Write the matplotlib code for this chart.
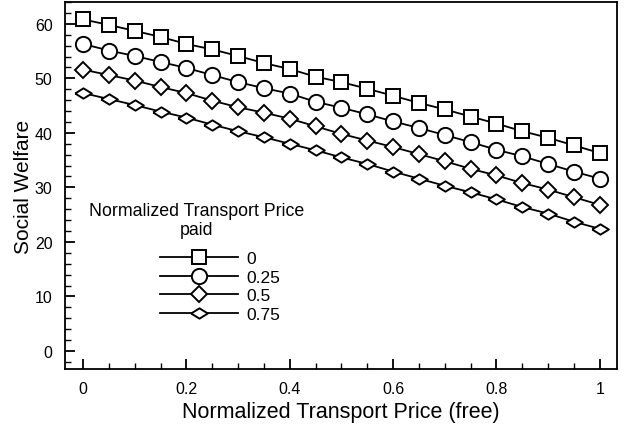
import matplotlib
matplotlib.use("Agg")
import matplotlib.pyplot as plt
from matplotlib.ticker import MultipleLocator

plt.rcParams['font.family'] = ['Liberation Sans', 'DejaVu Sans']

# free transport price, 0 .. 1 in 0.05 steps
price_free = [0.0, 0.05, 0.1, 0.15, 0.2, 0.25, 0.3, 0.35, 0.4, 0.45, 0.5,
              0.55, 0.6, 0.65, 0.7, 0.75, 0.8, 0.85, 0.9, 0.95, 1.0]

paid_labels = ['0', '0.25', '0.5', '0.75']

welfare_p0 = [60.8, 59.8, 58.7, 57.6, 56.3, 55.3, 54.1, 52.8, 51.7, 50.3, 49.3,
              48.1, 46.8, 45.5, 44.3, 43.0, 41.7, 40.3, 39.1, 37.7, 36.3]
welfare_p25 = [56.3, 55.1, 54.1, 53.0, 51.9, 50.6, 49.3, 48.2, 47.2, 45.7, 44.6,
               43.4, 42.1, 40.9, 39.6, 38.3, 36.9, 35.7, 34.3, 32.9, 31.6]
welfare_p50 = [51.6, 50.6, 49.6, 48.4, 47.3, 45.9, 44.7, 43.7, 42.6, 41.2, 39.8,
               38.6, 37.4, 36.1, 34.8, 33.4, 32.2, 30.8, 29.6, 28.2, 26.8]
welfare_p75 = [47.3, 46.2, 45.1, 43.9, 42.8, 41.5, 40.3, 39.2, 38.0, 36.8, 35.5,
               34.3, 32.9, 31.6, 30.3, 29.1, 27.8, 26.4, 25.2, 23.7, 22.4]

series = [welfare_p0, welfare_p25, welfare_p50, welfare_p75]
flat_diamond = [(-1, 0), (0, 0.62), (1, 0), (0, -0.62), (-1, 0)]
markers = [('s', 10.5), ('o', 11), ('D', 8), (flat_diamond, 12)]

fig = plt.figure(figsize=(6.25, 4.27), dpi=100)
ax = fig.add_axes([0.104, 0.1335, 0.883, 0.8595])

for vals, lab, (m, ms) in zip(series, paid_labels, markers):
    ax.plot(price_free, vals, color='black', lw=1.3, marker=m, markersize=ms,
            markerfacecolor='white', markeredgecolor='black', markeredgewidth=1.4,
            label=lab)

ax.set_xlim(-0.035, 1.033)
ax.set_ylim(-3.3, 64)
ax.xaxis.set_major_locator(MultipleLocator(0.2))
ax.xaxis.set_minor_locator(MultipleLocator(0.05))
ax.yaxis.set_major_locator(MultipleLocator(10))
ax.yaxis.set_minor_locator(MultipleLocator(2))
ax.set_xticks([0, 0.2, 0.4, 0.6, 0.8, 1.0])
ax.set_xticklabels(['0', '0.2', '0.4', '0.6', '0.8', '1'])
ax.tick_params(which='both', direction='in', top=False, right=False, labelsize=11.5)
ax.tick_params(which='major', length=7, width=1.3, pad=9)
ax.tick_params(which='minor', length=4, width=1)
for s in ax.spines.values():
    s.set_linewidth(1.3)

ax.set_xlabel('Normalized Transport Price (free)', fontsize=15.5, labelpad=3)
ax.set_ylabel('Social Welfare', fontsize=15, labelpad=1)

fig.text(197 / 625, 1 - 221 / 427, 'Normalized Transport Price\npaid',
         ha='center', va='center', fontsize=12.8, linespacing=1.2)
ax.legend(loc='upper left', bbox_to_anchor=(160 / 625, 1 - 252 / 427),
          bbox_transform=fig.transFigure, frameon=False, fontsize=12.5,
          handlelength=4.5, handletextpad=0.45, labelspacing=0.2,
          borderpad=0, borderaxespad=0)

fig.savefig('out.png', dpi=100)
